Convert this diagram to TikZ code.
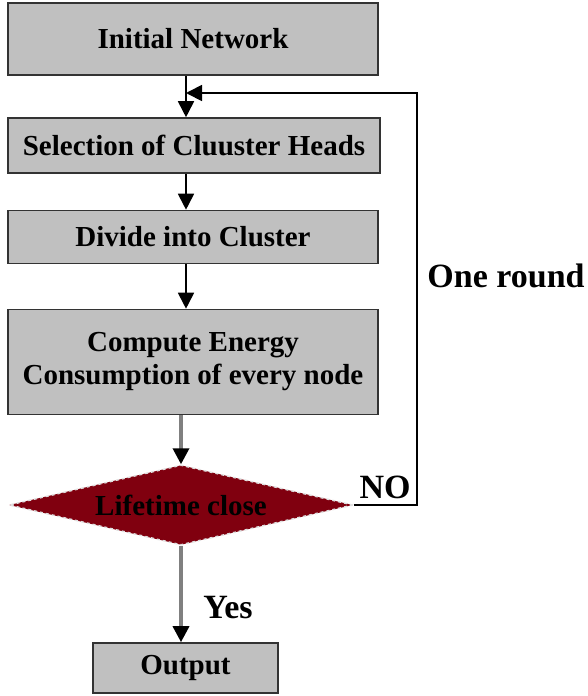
\documentclass[tikz,border=0pt]{standalone}
\usepackage{fontspec}
\setmainfont{Liberation Serif}
\usetikzlibrary{arrows.meta,shapes.geometric}
\definecolor{boxgray}{HTML}{C0C0C0}
\definecolor{decred}{HTML}{80000F}
\begin{document}
\begin{tikzpicture}[x=1pt,y=-1pt,
  stepbox/.style={draw=black!80, line width=1.6pt, fill=boxgray, align=center,
    font=\fontsize{29}{33}\selectfont\bfseries, inner sep=0pt},
  flow/.style={draw=black, line width=1.8pt, -{Triangle[width=16pt,length=16pt]}},
  grayflow/.style={draw=black!50, line width=3.4pt, -{Triangle[width=16pt,length=16pt,color=black]}},
  lbl/.style={font=\fontsize{34}{38}\selectfont\bfseries}]
\useasboundingbox (0,0) rectangle (587,696);
\node[stepbox, minimum width=370pt, minimum height=72pt] (init) at (193,39) {Initial Network};
\node[stepbox, minimum width=372pt, minimum height=55pt] (sel) at (194,145.5) {Selection of Cluuster Heads};
\node[stepbox, minimum width=370pt, minimum height=53pt] (div) at (193,237) {Divide into Cluster};
\node[stepbox, minimum width=370pt, minimum height=105pt] (comp) at (193,362) {Compute Energy\\Consumption of every node};
\node[diamond, aspect=4.3, draw=white!75!gray, dashed, line width=1.4pt, fill=decred, inner sep=0pt,
  minimum width=344pt, minimum height=80pt, font=\fontsize{29}{33}\selectfont\bfseries] (dec) at (181,505) {Lifetime close};
\node[stepbox, minimum width=185pt, minimum height=50pt] (out) at (185.5,668) {Output};
\coordinate (join) at (186,93);
\coordinate (loop) at (417,93);
\node[lbl] (one) at (506,276) {One round};
\node[lbl] (no) at (385,487) {NO};
\node[lbl] (yes) at (228,608) {Yes};
\draw[flow] (init.south -| join) -- (sel.north -| join);
\draw[flow] (sel.south -| join) -- (div.north -| join);
\draw[flow] (div.south -| join) -- (comp.north -| join);
\draw[grayflow] (comp.south -| dec.north) -- (dec.north);
\draw[grayflow] (dec.south) -- (out.north -| dec.south);
\draw[flow] (dec.east) -| (loop) -- (join);
\end{tikzpicture}
\end{document}
